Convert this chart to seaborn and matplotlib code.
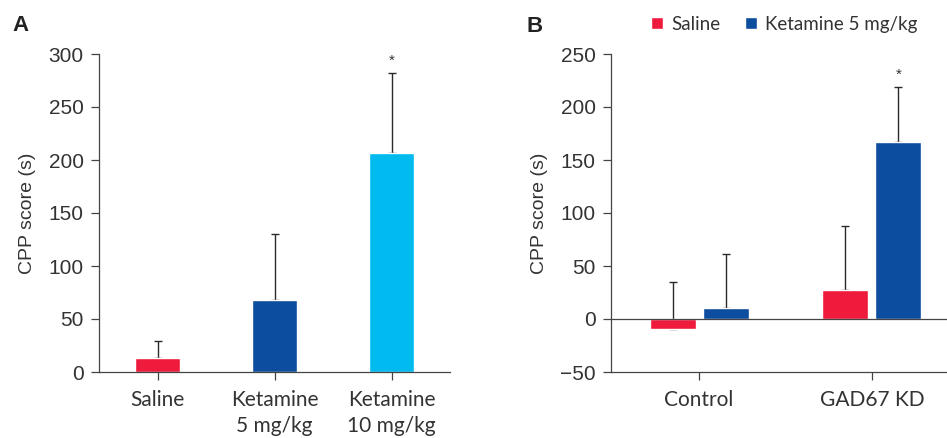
import matplotlib
matplotlib.use("Agg")
import matplotlib.pyplot as plt
import seaborn as sns
import pandas as pd

# ---- Panel A: dose response ----
groups_a = ["Saline", "Ketamine\n5 mg/kg", "Ketamine\n10 mg/kg"]
mean_a = [13, 68, 207]
err_a = [16, 62, 75]          # upper SEM
sig_a = [False, False, True]

# ---- Panel B: Control vs GAD67 knock-down ----
genotypes_b = ["Control", "GAD67 KD"]
treatments_b = ["Saline", "Ketamine 5 mg/kg"]
mean_b_saline = [-9, 27]
mean_b_ketamine = [10, 167]
err_b_saline = [44, 61]
err_b_ketamine = [51, 52]
sig_b_saline = [False, False]
sig_b_ketamine = [False, True]

RED = "#EE1B3C"
NAVY = "#0C4DA0"
CYAN = "#00BAF0"
LINE = "#444444"
TEXT = "#333333"

sns.set_style("ticks")
plt.rcParams["font.family"] = ["Liberation Sans", "DejaVu Sans"]
plt.rcParams["axes.edgecolor"] = LINE
plt.rcParams["axes.linewidth"] = 0.9

fig = plt.figure(figsize=(9.47, 4.38), dpi=100)
ax_a = fig.add_axes([99 / 947, 1 - 372 / 438, (450 - 99) / 947, 318 / 438])
ax_b = fig.add_axes([611 / 947, 1 - 372 / 438, (947 - 611) / 947, 318 / 438])


def bar_geometry(ax):
    """Centers and tops of the bars seaborn drew, container by container."""
    centers, tops = [], []
    for cont in ax.containers:
        for p in cont.patches:
            centers.append(p.get_x() + p.get_width() / 2)
            tops.append(p.get_y() + p.get_height())
    return centers, tops


def add_errors(ax, centers, tops, errs, sigs):
    zeros = [0] * len(errs)
    ax.errorbar(centers, tops, yerr=[zeros, errs], fmt="none",
                ecolor="#2a2a2a", elinewidth=1.0, capsize=3.2,
                capthick=1.0, zorder=1)
    for x, t, e, s in zip(centers, tops, errs, sigs):
        if s:
            ax.annotate("*", (x, t + e), xytext=(0, 6),
                        textcoords="offset points", ha="center",
                        va="baseline", fontsize=11, color=TEXT)


def style_axis(ax):
    sns.despine(ax=ax)
    ax.tick_params(axis="both", direction="out", length=6, width=0.9,
                   color=LINE, labelcolor=TEXT)
    ax.tick_params(axis="y", pad=5, labelsize=15)
    ax.tick_params(axis="x", pad=7)
    ax.set_xlabel("")
    ax.set_ylabel("CPP score (s)", fontsize=14, color=TEXT, labelpad=9)
    for lbl in ax.get_xticklabels():
        lbl.set_fontfamily(["Lato", "DejaVu Sans"])
        lbl.set_fontsize(15)
        lbl.set_linespacing(1.35)


# Panel A
df_a = pd.DataFrame({"group": groups_a, "score": mean_a})
sns.barplot(data=df_a, x="group", y="score", hue="group",
            palette=[RED, NAVY, CYAN], width=0.39, legend=False,
            errorbar=None, saturation=1, ax=ax_a, zorder=2)
centers_a, tops_a = bar_geometry(ax_a)
add_errors(ax_a, centers_a, tops_a, err_a, sig_a)
ax_a.set_xlim(-0.5, 2.5)
ax_a.set_ylim(0, 300)
ax_a.set_yticks(range(0, 301, 50))
style_axis(ax_a)

# Panel B
df_b = pd.DataFrame({
    "genotype": genotypes_b * 2,
    "treatment": [treatments_b[0]] * 2 + [treatments_b[1]] * 2,
    "score": mean_b_saline + mean_b_ketamine,
})
sns.barplot(data=df_b, x="genotype", y="score", hue="treatment",
            hue_order=treatments_b, palette=[RED, NAVY], width=0.612,
            gap=0.13, errorbar=None, saturation=1, ax=ax_b, zorder=2)
centers_b, tops_b = bar_geometry(ax_b)
add_errors(ax_b, centers_b, tops_b, err_b_saline + err_b_ketamine,
           sig_b_saline + sig_b_ketamine)
ax_b.axhline(0, color=LINE, lw=0.9, zorder=3)
ax_b.set_xlim(-0.51, 1.435)
ax_b.set_ylim(-50, 250)
ax_b.set_yticks(range(-50, 251, 50))
ax_b.set_yticklabels(["\u221250"] + [str(v) for v in range(0, 251, 50)])
style_axis(ax_b)

sns.move_legend(ax_b, "center left", bbox_to_anchor=(0.119, 1.094),
                ncol=2, frameon=False, title=None, borderaxespad=0,
                borderpad=0, handlelength=0.64, handleheight=0.64,
                handletextpad=0.45, columnspacing=1.3,
                prop={"family": ["Lato", "DejaVu Sans"], "size": 13.5})
for t in ax_b.get_legend().get_texts():
    t.set_color(TEXT)

# Panel letters
fig.text(12 / 947, 1 - 31 / 438, "A", fontsize=16, fontweight="bold",
         color="#222222", va="baseline")
fig.text(526 / 947, 1 - 32 / 438, "B", fontsize=16, fontweight="bold",
         color="#222222", va="baseline")

fig.savefig("out.png", dpi=100)
